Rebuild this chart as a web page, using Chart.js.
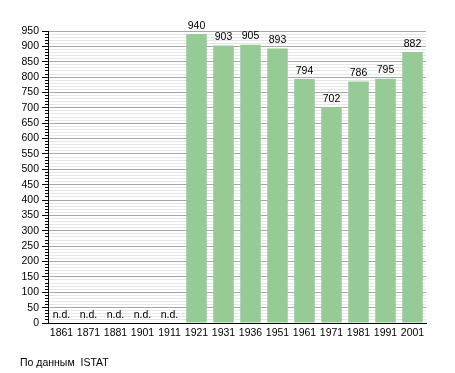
<!DOCTYPE html>
<html>
<head>
<meta charset="utf-8">
<script src="https://cdn.jsdelivr.net/npm/chart.js@4/dist/chart.umd.min.js"></script>
<style>
html,body{margin:0;padding:0;background:#fff;}
#wrap{width:455px;height:373px;}
</style>
</head>
<body>
<div id="wrap"><canvas id="c" width="455" height="373"></canvas></div>
<script>
const years = ['1861','1871','1881','1901','1911','1921','1931','1936','1951','1961','1971','1981','1991','2001'];
const population = [null,null,null,null,null,940,903,905,893,794,702,786,795,882];
const missingLabel = 'n.d.';
const sourceNote = 'По данным  ISTAT';
const yMax = 950;
const yStep = 10;
const yLabelStep = 50;

const FONT = '"Liberation Sans", Arial, sans-serif';

const labelPlugin = {
  id: 'barLabels',
  afterDatasetsDraw(chart) {
    const ctx = chart.ctx;
    const meta = chart.getDatasetMeta(0);
    const yScale = chart.scales.y;
    ctx.save();
    ctx.font = '10.5px ' + FONT;
    ctx.fillStyle = '#000';
    ctx.textAlign = 'center';
    ctx.textBaseline = 'bottom';
    meta.data.forEach((bar, i) => {
      const v = population[i];
      if (v === null) {
        ctx.fillText(missingLabel, bar.x, yScale.getPixelForValue(0) - 3);
      } else {
        ctx.fillText(String(v), bar.x, bar.y - 3);
      }
    });
    ctx.textAlign = 'left';
    ctx.textBaseline = 'middle';
    ctx.fillText(sourceNote, 20, 363);
    ctx.restore();
  }
};

new Chart(document.getElementById('c'), {
  type: 'bar',
  data: {
    labels: years,
    datasets: [{
      data: population,
      backgroundColor: 'rgb(150,203,150)',
      borderWidth: 0,
      barPercentage: 0.76,
      categoryPercentage: 1.0,
      yAxisID: 'y'
    }]
  },
  options: {
    responsive: false,
    animation: false,
    events: [],
    layout: { padding: { top: 31, right: 29, left: 0, bottom: 0 } },
    plugins: { legend: { display: false }, tooltip: { enabled: false } },
    scales: {
      x: {
        offset: true,
        grid: { display: false, drawTicks: false },
        border: { display: true, color: '#000', width: 1 },
        ticks: { color: '#000', font: { size: 10.5, family: FONT }, maxRotation: 0, autoSkip: false, padding: 4 },
        afterFit(scale) { scale.height = 50; }
      },
      y: {
        position: 'left',
        weight: 0,
        min: 0,
        max: yMax,
        border: { display: true, color: '#000', width: 1 },
        grid: {
          color: (c) => (c.tick && c.tick.value % yLabelStep === 0) ? '#a8a8a8' : '#e6e6e6',
          tickColor: '#000',
          tickLength: 3,
          drawOnChartArea: true
        },
        ticks: { stepSize: yStep, autoSkip: false, display: false },
        afterFit(scale) { scale.width = 0; }
      },
      yMajor: {
        position: 'left',
        weight: 1,
        min: 0,
        max: yMax,
        border: { display: false },
        grid: { drawOnChartArea: false, tickColor: '#000', tickLength: 6 },
        ticks: {
          stepSize: yLabelStep,
          autoSkip: false,
          color: '#000',
          padding: 3,
          font: { size: 10.5, family: FONT }
        },
        afterFit(scale) { scale.width = 48; }
      }
    }
  },
  plugins: [labelPlugin]
});
</script>
</body>
</html>
